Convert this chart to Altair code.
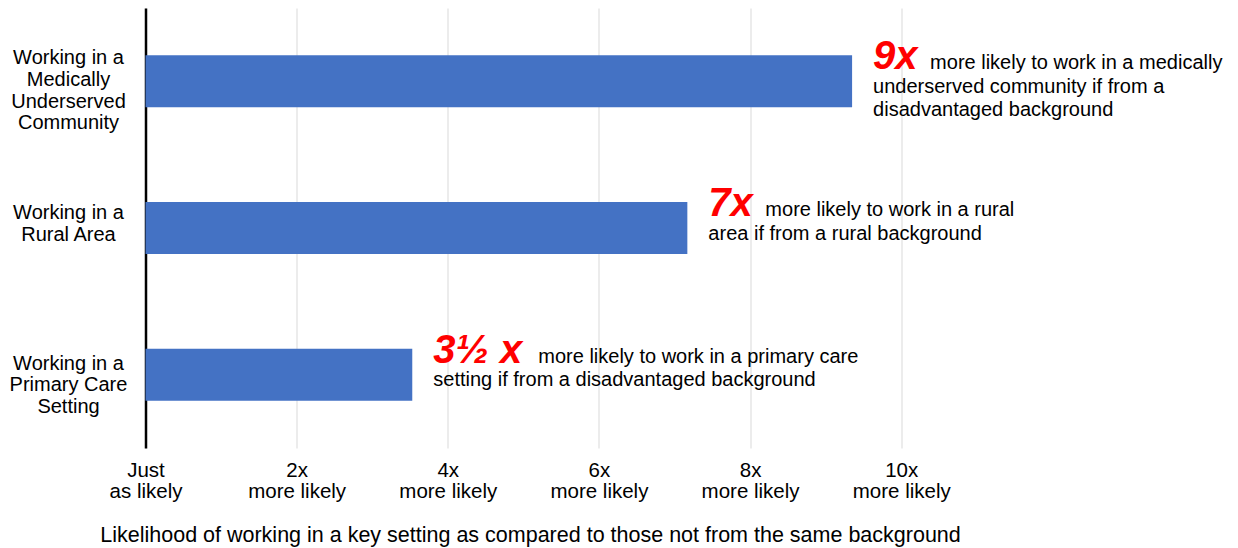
import json
import altair as alt
import pandas as pd

# ---- data ----
categories = [
    "Working in a Medically Underserved Community",
    "Working in a Rural Area",
    "Working in a Primary Care Setting",
]
category_lines = [
    ["Working in a", "Medically", "Underserved", "Community"],
    ["Working in a", "Rural Area"],
    ["Working in a", "Primary Care", "Setting"],
]
values = [9.35, 7.17, 3.53]
big_labels = ["9x", "7x", "3½ x"]
note_line1 = [
    "more likely to work in a medically",
    "more likely to work in a rural",
    "more likely to work in a primary care",
]
note_line2 = [
    "underserved community if from a",
    "area if from a rural background",
    "setting if from a disadvantaged background",
]
note_line3 = ["disadvantaged background", "", ""]
tick_values = [0, 2, 4, 6, 8, 10]
tick_labels = [
    ["Just", "as likely"],
    ["2x", "more likely"],
    ["4x", "more likely"],
    ["6x", "more likely"],
    ["8x", "more likely"],
    ["10x", "more likely"],
]
x_title = "Likelihood of working in a key setting as compared to those not from the same background"

# ---- layout constants ----
XMAX = 14
PLOT_W = 1058
PLOT_H = 440
PX = PLOT_W / XMAX
FONT = "Liberation Sans"
FS = 20
YLH = 21.7  # y label line height

df = pd.DataFrame({
    "category": categories,
    "value": values,
    "big": big_labels,
    "l1": note_line1,
    "l2": note_line2,
    "l3": note_line3,
})

ylab_map = json.dumps(dict(zip(categories, category_lines)))
xlab_arr = json.dumps(tick_labels)

# vertical offset of the first label line so each block sits by its bar
ylab_offsets = [-23, -15, -11]
ylab_offset_cond = {
    "condition": [
        {"test": f"datum.value === {json.dumps(c)}", "value": o}
        for c, o in zip(categories[:-1], ylab_offsets[:-1])
    ],
    "value": ylab_offsets[-1],
}

xscale = alt.Scale(domain=[0, XMAX], nice=False, zero=True)

x_axis = alt.Axis(
    values=tick_values,
    labelExpr=f"{xlab_arr}[datum.value / 2]",
    grid=True,
    gridColor="#D9D9D9",
    gridWidth=1,
    domain=False,
    ticks=False,
    tickSize=0,
    labelFont=FONT,
    labelFontSize=20.5,
    labelColor="black",
    labelBaseline="top",
    labelPadding=12,
    labelLineHeight=21,
    labelFlush=False,
    labelOverlap=False,
    labelBound=False,
    title=x_title,
    titleFont=FONT,
    titleFontSize=21.5,
    titleFontWeight="normal",
    titleColor="black",
    titleX=384.5,
    titleY=93,
    titleAlign="center",
    titleBaseline="alphabetic",
)

y_enc = alt.Y(
    "category:N",
    sort=categories,
    scale=alt.Scale(paddingInner=0.645, paddingOuter=0.3225),
    axis=alt.Axis(
        title=None,
        domain=True,
        domainColor="black",
        domainWidth=2.5,
        ticks=False,
        tickSize=0,
        grid=False,
        labelAlign="center",
        labelBaseline="middle",
        labelPadding=77.5,
        labelOffset=ylab_offset_cond,
        labelFont=FONT,
        labelFontSize=20,
        labelColor="black",
        labelLineHeight=YLH,
        labelLimit=0,
        labelExpr=f"{ylab_map}[datum.label]",
    ),
)

base = alt.Chart(df).encode(y=y_enc)

bars = base.mark_bar(color="#4472C4").encode(
    x=alt.X("value:Q", scale=xscale, axis=x_axis)
)

big = base.mark_text(
    align="left", baseline="alphabetic", dx=21, dy=-12,
    font=FONT, fontSize=40, fontWeight="bold", fontStyle="italic", color="#FF0000",
).encode(x=alt.X("value:Q", scale=xscale, axis=x_axis), text="big:N")

line1 = base.transform_calculate(
    x1=f"datum.value + (30 + 24 * length(datum.big)) / {PX}"
).mark_text(
    align="left", baseline="alphabetic", dy=-12, font=FONT, fontSize=FS, color="black"
).encode(x=alt.X("x1:Q", scale=xscale, axis=x_axis), text="l1:N")

line2 = base.mark_text(
    align="left", baseline="alphabetic", dx=21, dy=11.5, font=FONT, fontSize=FS, color="black"
).encode(x=alt.X("value:Q", scale=xscale, axis=x_axis), text="l2:N")

line3 = base.mark_text(
    align="left", baseline="alphabetic", dx=21, dy=35, font=FONT, fontSize=FS, color="black"
).encode(x=alt.X("value:Q", scale=xscale, axis=x_axis), text="l3:N")

chart = alt.layer(bars, big, line1, line2, line3).properties(
    width=PLOT_W,
    height=PLOT_H,
    background="white",
    autosize=alt.AutoSizeParams(type="none"),
    padding={"left": 137.5, "top": 0, "right": 26, "bottom": 100},
).configure_view(stroke=None)

chart.save("out.html", embed_options={"renderer": "svg", "actions": False})
